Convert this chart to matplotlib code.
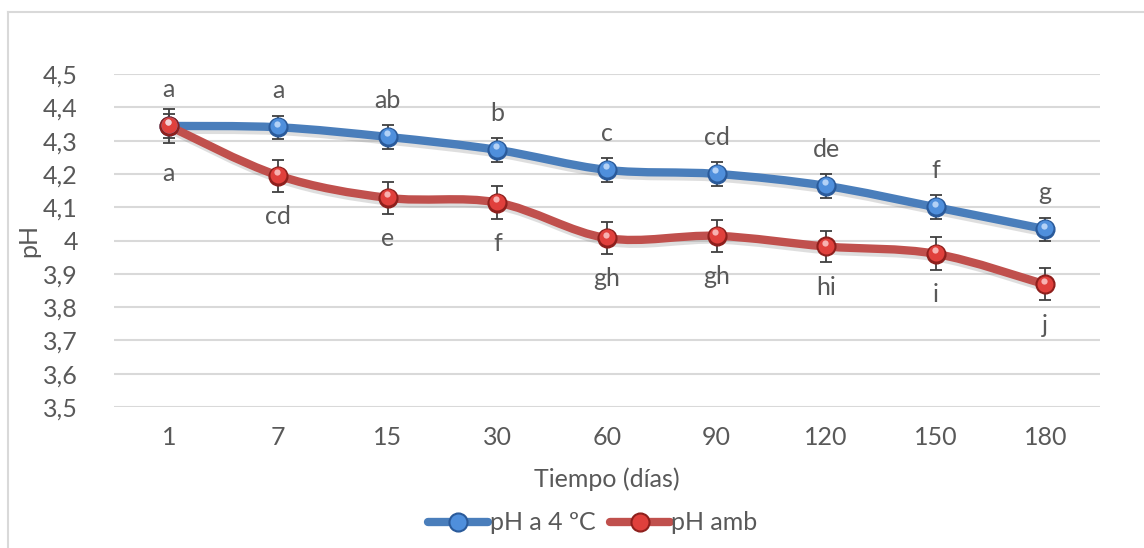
import numpy as np
import matplotlib.pyplot as plt
from matplotlib.path import Path
from matplotlib.patches import PathPatch
from matplotlib.lines import Line2D
from matplotlib import transforms
from matplotlib.legend_handler import HandlerTuple

plt.rcParams['font.family'] = ['Lato', 'DejaVu Sans']

# pH over storage time
dias = ['1', '7', '15', '30', '60', '90', '120', '150', '180']
ph_4c = [4.344, 4.34, 4.311, 4.272, 4.212, 4.20, 4.164, 4.10, 4.034]
ph_amb = [4.344, 4.195, 4.128, 4.114, 4.007, 4.014, 3.982, 3.96, 3.868]
err_4c = [0.035, 0.035, 0.036, 0.035, 0.035, 0.035, 0.035, 0.036, 0.035]
err_amb = [0.05, 0.048, 0.048, 0.05, 0.048, 0.048, 0.048, 0.05, 0.048]
letras_4c = ['a', 'a', 'ab', 'b', 'c', 'cd', 'de', 'f', 'g']
letras_amb = ['a', 'cd', 'e', 'f', 'gh', 'gh', 'hi', 'i', 'j']

TXT = '#595959'
GRID = '#d9d9d9'
FS = 18


def smooth_path(xs, ys):
    # Catmull-Rom style bezier through the points (like Excel's smoothed line)
    pts = np.column_stack([xs, ys]).astype(float)
    n = len(pts)
    verts = [pts[0]]
    codes = [Path.MOVETO]
    for i in range(n - 1):
        p_prev = pts[i - 1] if i > 0 else pts[i]
        p_next = pts[i + 2] if i + 2 < n else pts[i + 1]
        c1 = pts[i] + (pts[i + 1] - p_prev) / 6
        c2 = pts[i + 1] - (p_next - pts[i]) / 6
        verts += [c1, c2, pts[i + 1]]
        codes += [Path.CURVE4] * 3
    return Path(verts, codes)


fig = plt.figure(figsize=(11.44, 5.48), dpi=100)
ax = fig.add_axes([114 / 1144, 1 - 407 / 548, 986 / 1144, 333 / 548])

# outer chart frame
fig.add_artist(Line2D([8 / 1144, 8 / 1144], [0, 1 - 12 / 548], color=GRID, lw=1.5,
                      transform=fig.transFigure))
fig.add_artist(Line2D([8 / 1144, 1], [1 - 12 / 548, 1 - 12 / 548], color=GRID, lw=1.5,
                      transform=fig.transFigure))

x = np.arange(len(dias))
series = [
    (ph_4c, err_4c, '#4a7ebb', '#2a5a9a', '#4f8fdc', '#d6e8ff', 'pH a 4 ºC'),
    (ph_amb, err_amb, '#c0504d', '#8e1f1c', '#e0403c', '#ffd9d9', 'pH amb'),
]

shadow = transforms.offset_copy(ax.transData, fig, x=1.5, y=-2.5, units='points')
up1 = transforms.offset_copy(ax.transData, fig, x=0, y=0.6, units='points')
up3 = transforms.offset_copy(ax.transData, fig, x=-0.8, y=2.6, units='points')

handles = []
for ys, err, lc, dark, mid, light, lab in series:
    path = smooth_path(x, ys)
    ax.add_patch(PathPatch(path, fill=False, edgecolor='#7f7f7f', lw=6.5, alpha=0.25,
                           transform=shadow, capstyle='round', zorder=2))
    ax.add_patch(PathPatch(path, fill=False, edgecolor=lc, lw=6, capstyle='round',
                           joinstyle='round', zorder=3))
    ax.errorbar(x, ys, yerr=err, fmt='none', ecolor='#404040', elinewidth=1.3,
                capsize=4.5, capthick=1.3, zorder=4)
    ax.plot(x, ys, 'o', ms=13.5, mfc=dark, mec=dark, zorder=5)
    ax.plot(x, ys, 'o', ms=11.5, mfc=mid, mec='none', zorder=6, transform=up1)
    ax.plot(x, ys, 'o', ms=4.5, mfc=light, mec='none', alpha=0.75, zorder=7, transform=up3)
    h = (Line2D([], [], color=lc, lw=6, solid_capstyle='round'),
         Line2D([], [], ls='none', marker='o', ms=13.5, mfc=dark, mec=dark),
         Line2D([], [], ls='none', marker='o', ms=11.5, mfc=mid, mec='none'))
    handles.append((h, lab))

# significance letters: above for 4 ºC, below for ambient
for xi, yi, t in zip(x, ph_4c, letras_4c):
    ax.annotate(t, (xi, yi), xytext=(0, 21), textcoords='offset points',
                ha='center', va='baseline', fontsize=FS, color=TXT, zorder=8)
for i, (xi, yi, t) in enumerate(zip(x, ph_amb, letras_amb)):
    off = -26 if i == 0 else -21
    ax.annotate(t, (xi, yi), xytext=(0, off), textcoords='offset points',
                ha='center', va='top', fontsize=FS, color=TXT, zorder=8)

ax.set_xlim(-0.5, len(dias) - 0.5)
ax.set_ylim(3.5, 4.5)
ax.set_yticks(np.arange(3.5, 4.51, 0.1))
ax.set_yticklabels([f'{v:.1f}'.replace('.', ',').replace(',0', '') for v in np.arange(3.5, 4.51, 0.1)])
ax.set_xticks(x)
ax.set_xticklabels(dias)
ax.tick_params(length=0, labelsize=FS, labelcolor=TXT)
ax.tick_params(axis='y', pad=26)
ax.tick_params(axis='x', pad=14)
for s in ax.spines.values():
    s.set_visible(False)
ax.grid(axis='y', color=GRID, lw=1.5)
ax.set_axisbelow(True)

ax.set_xlabel('Tiempo (días)', fontsize=FS, color=TXT, labelpad=13)
ax.set_ylabel('pH', fontsize=FS, color=TXT, labelpad=2)

leg = fig.legend([h for h, _ in handles], [l for _, l in handles],
                 handler_map={tuple: HandlerTuple(ndivide=1)},
                 loc='center', bbox_to_anchor=(593 / 1144, 1 - 523 / 548), ncol=2,
                 frameon=False, fontsize=FS, labelcolor=TXT, handlelength=2.4,
                 handletextpad=0.05, columnspacing=0.6)

fig.savefig('out.png', dpi=100)
